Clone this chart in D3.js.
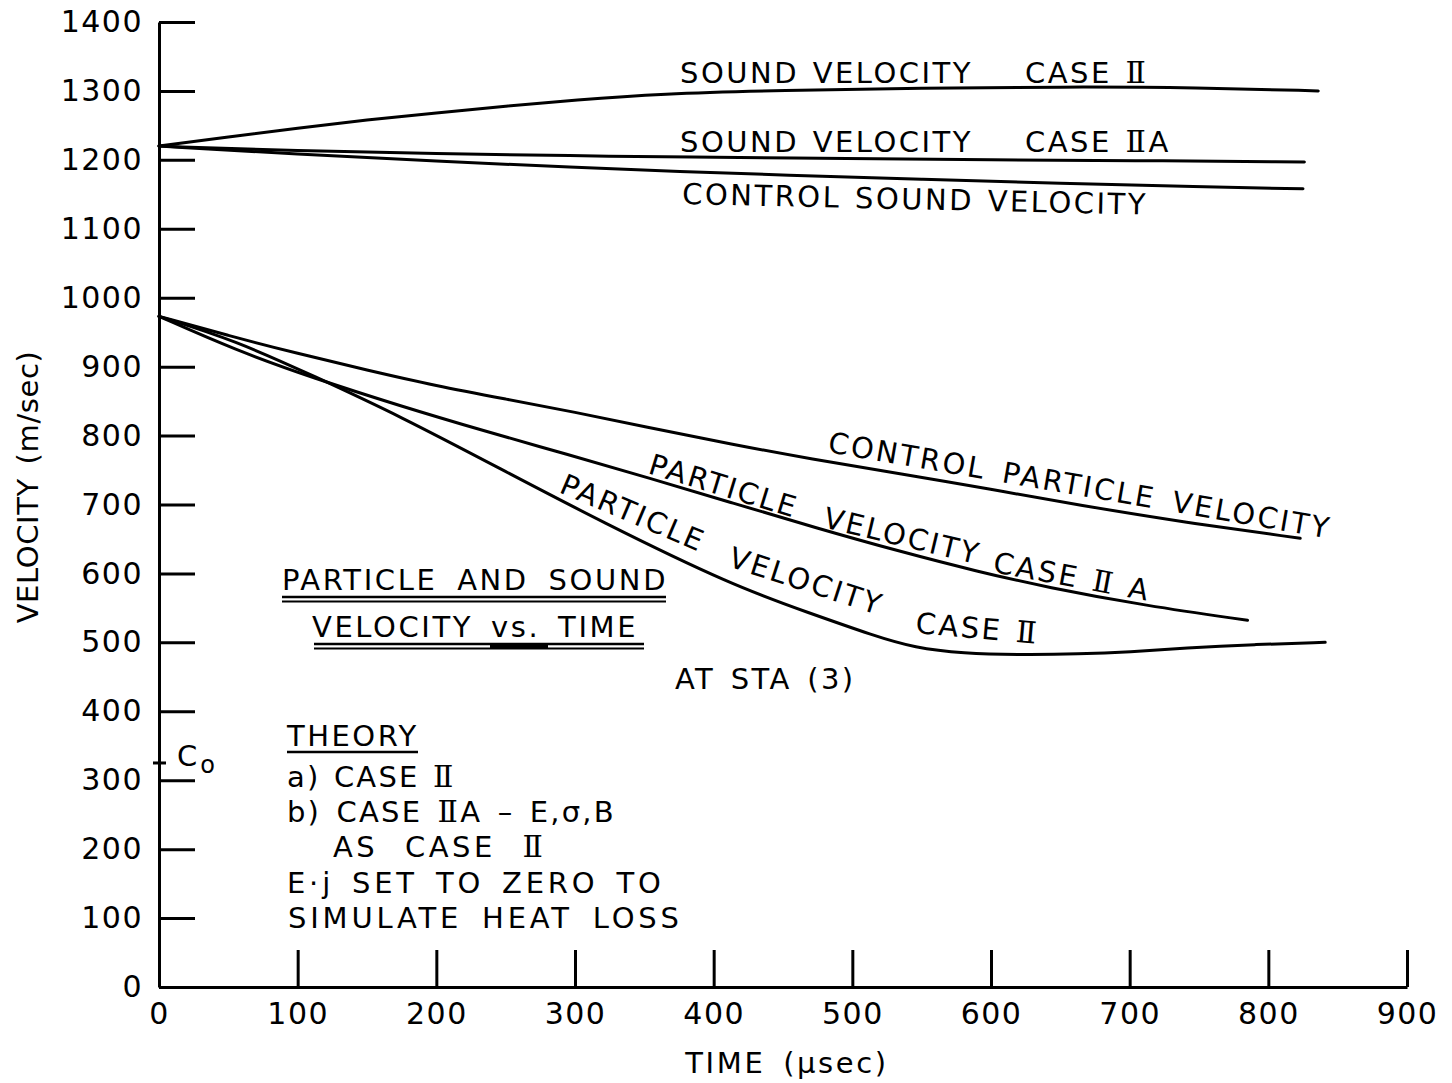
<!DOCTYPE html>
<html>
<head>
<meta charset="utf-8">
<script src="https://cdn.jsdelivr.net/npm/d3@7"></script>
<style>
  html, body { margin: 0; padding: 0; background: #fff; }
  svg { display: block; }
  text { font-family: "DejaVu Sans", sans-serif; fill: #000; }
</style>
</head>
<body>
<svg id="chart" width="1452" height="1083"></svg>
<script>
// ---------------- DATA ----------------
const timeTicks = [0, 100, 200, 300, 400, 500, 600, 700, 800, 900];
const velocityTicks = [0, 100, 200, 300, 400, 500, 600, 700, 800, 900, 1000, 1100, 1200, 1300, 1400];
const C0 = 325; // marked ambient sound velocity

// [time (μsec), velocity (m/sec)]
const soundCaseII = [[0,1220],[50,1233],[100,1246],[150,1258],[200,1268],[250,1278],[300,1287],[361,1296],[450,1301],[550,1304],[650,1306],[750,1305],[836,1300]];
const soundCaseIIA = [[0,1220],[100,1213],[200,1209],[300,1206],[376,1204],[500,1202],[600,1200],[700,1199],[826,1197]];
const controlSound = [[0,1220],[100,1208],[200,1198],[300,1189],[376,1183],[450,1178],[550,1172],[650,1166],[750,1161],[825,1158]];
const controlParticle = [[0,973],[50,945],[100,919],[150,895],[200,872],[250,853],[300,834],[350,813],[414,787],[470,766],[534,745],[600,722],[664,699],[740,674],[823,651]];
const particleCaseIIA = [[0,973],[55,924],[112,883],[174,843],[234,807],[294,773],[354,738],[414,702],[474,666],[534,632],[590,603],[640,580],[712,553],[785,532]];
const particleCaseII = [[0,973],[55,938],[112,886],[174,828],[246,752],[318,676],[414,582],[470,542],[515,510],[545,492],[580,484],[620,482],[664,483],[700,486],[740,492],[790,497],[841,500]];

const seriesList = [soundCaseII, soundCaseIIA, controlSound, controlParticle, particleCaseIIA, particleCaseII];

// ---------------- CHART ----------------
const svg = d3.select("#chart");
const x = d3.scaleLinear().domain([0, 900]).range([159, 1407]);
const y = d3.scaleLinear().domain([0, 1400]).range([987, 22]);

const FS = 29;
const LS = "2.5px";
const ROMAN2 = "\u2161";

// axes
const yAxis = d3.axisLeft(y).tickValues(velocityTicks).tickSizeInner(-36).tickSizeOuter(0).tickPadding(16).tickFormat(d3.format("d"));
const xAxis = d3.axisBottom(x).tickValues(timeTicks).tickSizeInner(-37).tickSizeOuter(0).tickPadding(16).tickFormat(d3.format("d"));

const gy = svg.append("g").attr("transform", `translate(${x(0)},0)`).call(yAxis);
const gx = svg.append("g").attr("transform", `translate(0,${y(0)})`).call(xAxis);

[gx, gy].forEach(g => {
  g.select(".domain").attr("stroke", "#000").attr("stroke-width", 3);
  g.selectAll(".tick line").attr("stroke", "#000").attr("stroke-width", 3);
  g.selectAll(".tick text").attr("font-size", 30).attr("font-family", "DejaVu Sans").attr("fill", "#000").style("letter-spacing", "1.5px");
});

// C0 mark
svg.append("line")
  .attr("x1", x(0) - 6).attr("x2", x(0) + 7)
  .attr("y1", y(C0)).attr("y2", y(C0))
  .attr("stroke", "#000").attr("stroke-width", 3);
const co = svg.append("text").attr("x", x(0) + 18).attr("y", y(C0) + 3).attr("font-size", 29);
co.append("tspan").text("C");
co.append("tspan").attr("font-size", 24).attr("dx", 3).attr("dy", 7).text("o");

// curves
const line = d3.line().x(d => x(d[0])).y(d => y(d[1])).curve(d3.curveBasis);
svg.append("g").selectAll("path").data(seriesList).join("path")
  .attr("d", line)
  .attr("fill", "none")
  .attr("stroke", "#000")
  .attr("stroke-width", 3)
  .attr("stroke-linejoin", "round")
  .attr("stroke-linecap", "round");

// helper for labels (Roman numeral II drawn in serif form)
function label(txt, px, py, rot, opts = {}) {
  const t = svg.append("text")
    .attr("transform", `translate(${px},${py}) rotate(${rot || 0})`)
    .attr("font-size", opts.size || FS)
    .style("letter-spacing", opts.ls || LS)
    .style("word-spacing", opts.ws || "2px");
  if (opts.anchor) t.attr("text-anchor", opts.anchor);
  const parts = txt.split(ROMAN2);
  parts.forEach((p, i) => {
    if (p.length) t.append("tspan").text(p);
    if (i < parts.length - 1) {
      t.append("tspan").attr("font-family", "DejaVu Serif").attr("font-size", (opts.size || FS) + 1).text(ROMAN2);
    }
  });
  return t;
}

// curve labels
label("SOUND VELOCITY", 680, 83, 0);
label("CASE " + ROMAN2, 1025, 83, 0);
label("SOUND VELOCITY", 680, 152, 0);
label("CASE " + ROMAN2 + "A", 1025, 152, 0);
label("CONTROL SOUND VELOCITY", 682, 204, 1.3);

label("CONTROL PARTICLE VELOCITY", 827, 452, 9.8, {ls: "2.6px", ws: "5px"});

label("PARTICLE", 647, 473, 17);
label("VELOCITY", 822, 527, 13.5);
label("CASE " + ROMAN2 + " A", 992, 572, 10.5);

label("PARTICLE", 558, 492, 23);
label("VELOCITY", 727, 566, 18);
label("CASE " + ROMAN2, 915, 633, 5);

// title block
label("PARTICLE AND SOUND", 282, 590, 0, {ls: "2.6px", ws: "8px"});
label("VELOCITY  vs.  TIME", 312, 637, 0, {ls: "2.6px", ws: "6px"});
const ul = svg.append("g").attr("stroke", "#000");
ul.append("line").attr("x1", 282).attr("x2", 666).attr("y1", 597).attr("y2", 597).attr("stroke-width", 2.5);
ul.append("line").attr("x1", 282).attr("x2", 666).attr("y1", 601.5).attr("y2", 601.5).attr("stroke-width", 2);
ul.append("line").attr("x1", 314).attr("x2", 644).attr("y1", 644).attr("y2", 644).attr("stroke-width", 2.5);
ul.append("line").attr("x1", 314).attr("x2", 644).attr("y1", 648.5).attr("y2", 648.5).attr("stroke-width", 2);
ul.append("line").attr("x1", 490).attr("x2", 548).attr("y1", 646).attr("y2", 646).attr("stroke-width", 4);

label("AT STA (3)", 675, 689, 0, {ls: "2.4px", ws: "4px"});

// theory block
label("THEORY", 287, 746, 0);
svg.append("line").attr("x1", 287).attr("x2", 418).attr("y1", 752).attr("y2", 752).attr("stroke", "#000").attr("stroke-width", 2.5);
label("a) CASE " + ROMAN2, 287, 787, 0, {ls: "2.2px", ws: "2px"});
label("b) CASE " + ROMAN2 + "A \u2013 E,\u03c3,B", 287, 822, 0, {ls: "2.2px", ws: "4px"});
label("AS CASE " + ROMAN2, 333, 857, 0, {ls: "3.5px", ws: "14px"});
label("E\u00b7j SET TO ZERO TO", 287, 893, 0, {ls: "3.8px", ws: "5px"});
label("SIMULATE HEAT LOSS", 288, 928, 0, {ls: "3.8px", ws: "7px"});

// axis titles
label("VELOCITY (m/sec)", 38, 487, -90, {anchor: "middle", ls: "0.6px", ws: "4px"});
label("TIME (\u03bcsec)", 787, 1073, 0, {anchor: "middle", ls: "2.6px", ws: "6px"});
</script>
</body>
</html>
